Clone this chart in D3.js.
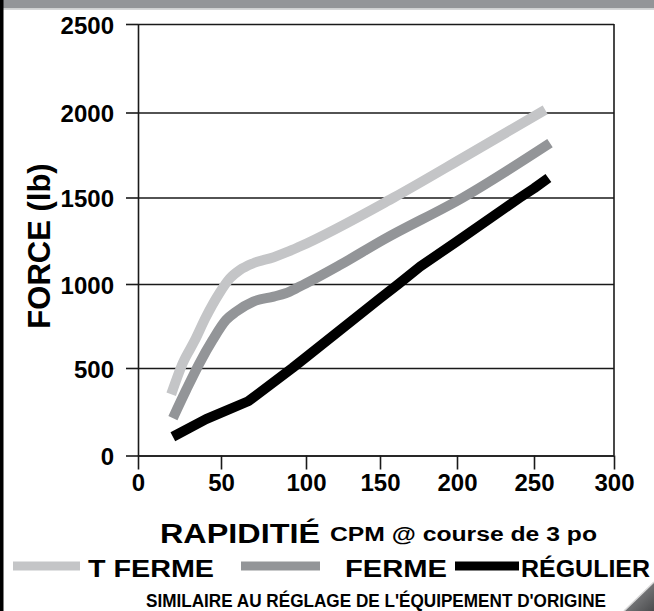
<!DOCTYPE html>
<html><head><meta charset="utf-8">
<script src="https://cdn.jsdelivr.net/npm/d3@7"></script>
<style>
html,body{margin:0;padding:0;background:#fff;}
svg{display:block;}
text{font-family:"Liberation Sans",Arial,Helvetica,sans-serif;font-weight:bold;fill:#000;}
</style></head><body>
<svg id="chart" width="654" height="611"></svg>
<script>
// ---- data ----
const xTicks = [0, 50, 100, 150, 200, 250, 300];
const yTicks = [0, 500, 1000, 1500, 2000, 2500];
const seriesNames = ["T FERME", "FERME", "RÉGULIER"];
const seriesColors = ["#c4c5c7", "#939598", "#000000"];
const tFermeX = [20, 27, 34, 41, 49, 55, 61, 69, 81, 89, 96, 159, 206, 257];
const tFermeY = [350, 530, 660, 805, 945, 1030, 1080, 1120, 1155, 1185, 1215, 1500, 1745, 2015];
const fermeX = [21, 29, 37, 45, 53, 59, 69, 81, 88, 96, 123, 152, 204, 260];
const fermeY = [213, 374, 528, 667, 786, 836, 895, 925, 945, 983, 1110, 1255, 1500, 1820];
const regulierX = [21, 41, 66, 92, 100, 150, 162, 176, 200, 241, 250, 259];
const regulierY = [107, 208, 310, 500, 564, 914, 1000, 1100, 1247, 1500, 1554, 1615];
const yTitle = "FORCE (lb)";
const xTitleMain = "RAPIDITIÉ";
const xTitleSub = "CPM @ course de 3 po";
const footnote = "SIMILAIRE AU RÉGLAGE DE L'ÉQUIPEMENT D'ORIGINE";

const series = [
  {name: seriesNames[0], color: seriesColors[0], pts: d3.zip(tFermeX, tFermeY), curve: d3.curveMonotoneX},
  {name: seriesNames[1], color: seriesColors[1], pts: d3.zip(fermeX, fermeY), curve: d3.curveMonotoneX},
  {name: seriesNames[2], color: seriesColors[2], pts: d3.zip(regulierX, regulierY), curve: d3.curveLinear}
];

// ---- layout ----
const svg = d3.select("#chart");
const W = 654, H = 611;
const x = d3.scaleLinear().domain(xTicks).range([138, 221, 306, 380, 457, 534, 614]);
const y = d3.scaleLinear().domain(yTicks).range([455.5, 368, 284, 197.5, 112.5, 24]);
const x0 = x(0), x1 = x(300), yb = y(0), yt = y(2500);

// frame decorations
svg.append("rect").attr("x", 0).attr("y", 0).attr("width", W).attr("height", 8.5).attr("fill", "#939598");
svg.append("rect").attr("x", 0).attr("y", 8.5).attr("width", W).attr("height", 1.5).attr("fill", "#d6d7d8");
svg.append("rect").attr("x", 0).attr("y", 0).attr("width", 3.5).attr("height", H).attr("fill", "#000");
const grad = svg.append("defs").append("linearGradient").attr("id", "cg")
  .attr("x1", "0").attr("y1", "0").attr("x2", "1").attr("y2", "1");
grad.append("stop").attr("offset", "0").attr("stop-color", "#9a9b9d");
grad.append("stop").attr("offset", "1").attr("stop-color", "#4a4b4d");
svg.append("path").attr("d", `M${W-30},${H} L${W},${H-29} L${W},${H} Z`).attr("fill", "url(#cg)");
svg.append("path").attr("d", `M${W-30},${H} L${W},${H-29}`).attr("stroke", "#d8d8d8").attr("stroke-width", 1.5);

// gridlines
const grid = svg.append("g").attr("transform", `translate(${x0},0)`)
  .call(d3.axisLeft(y).tickValues(yTicks).tickSize(-(x1 - x0)).tickFormat(""));
grid.select(".domain").remove();
grid.selectAll("line").attr("stroke", "#1a1a1a").attr("stroke-width", 1.6);

// right border
svg.append("line").attr("x1", x1).attr("x2", x1).attr("y1", yt).attr("y2", yb)
  .attr("stroke", "#1a1a1a").attr("stroke-width", 1.6);

// y axis
const ya = svg.append("g").attr("transform", `translate(${x0},0)`)
  .call(d3.axisLeft(y).tickValues(yTicks).tickFormat(d3.format("d"))
    .tickSize(12).tickSizeOuter(0).tickPadding(12));
ya.select(".domain").attr("stroke", "#1a1a1a").attr("stroke-width", 1.6);
ya.selectAll("line").attr("stroke", "#1a1a1a").attr("stroke-width", 1.6);
ya.selectAll("text").attr("font-size", 24).attr("font-family", "Liberation Sans, Arial, sans-serif")
  .attr("font-weight", "bold").attr("dy", "0.38em").attr("fill", "#000");

// x axis
const xa = svg.append("g").attr("transform", `translate(0,${yb})`)
  .call(d3.axisBottom(x).tickValues(xTicks).tickFormat(d3.format("d"))
    .tickSize(14).tickSizeOuter(0).tickPadding(4));
xa.select(".domain").attr("stroke", "#1a1a1a").attr("stroke-width", 1.6);
xa.selectAll("line").attr("stroke", "#1a1a1a").attr("stroke-width", 1.6);
xa.selectAll("text").attr("font-size", 24).attr("font-family", "Liberation Sans, Arial, sans-serif")
  .attr("font-weight", "bold").attr("fill", "#000");

// series lines
svg.append("g").selectAll("path").data(series).join("path")
  .attr("d", d => d3.line().x(p => x(p[0])).y(p => y(p[1])).curve(d.curve)(d.pts))
  .attr("fill", "none").attr("stroke", d => d.color)
  .attr("stroke-width", 10).attr("stroke-linecap", "butt").attr("stroke-linejoin", "round");

// y title
svg.append("text").attr("transform", "translate(50,246) rotate(-90)")
  .attr("text-anchor", "middle").attr("font-size", 31).text(yTitle);

// x title
svg.append("text").attr("x", 160).attr("y", 543).attr("font-size", 27)
  .attr("textLength", 160).attr("lengthAdjust", "spacingAndGlyphs").text(xTitleMain);
svg.append("text").attr("x", 330).attr("y", 541).attr("font-size", 20)
  .attr("textLength", 267).attr("lengthAdjust", "spacingAndGlyphs").text(xTitleSub);

// legend
const legendItems = [
  {sx: 13, ex: 80, tx: 88, tl: 126},
  {sx: 241, ex: 320, tx: 345, tl: 102},
  {sx: 455, ex: 519, tx: 521, tl: 129}
];
const lg = svg.append("g");
series.forEach((s, i) => {
  const it = legendItems[i];
  lg.append("rect").attr("x", it.sx).attr("y", 561.5).attr("width", it.ex - it.sx).attr("height", 9)
    .attr("fill", s.color);
  lg.append("text").attr("x", it.tx).attr("y", 577).attr("font-size", 24)
    .attr("textLength", it.tl).attr("lengthAdjust", "spacingAndGlyphs").text(s.name);
});

// footnote
svg.append("text").attr("x", 146).attr("y", 606.5).attr("font-size", 18)
  .attr("textLength", 460).attr("lengthAdjust", "spacingAndGlyphs").text(footnote);
</script>
</body></html>
